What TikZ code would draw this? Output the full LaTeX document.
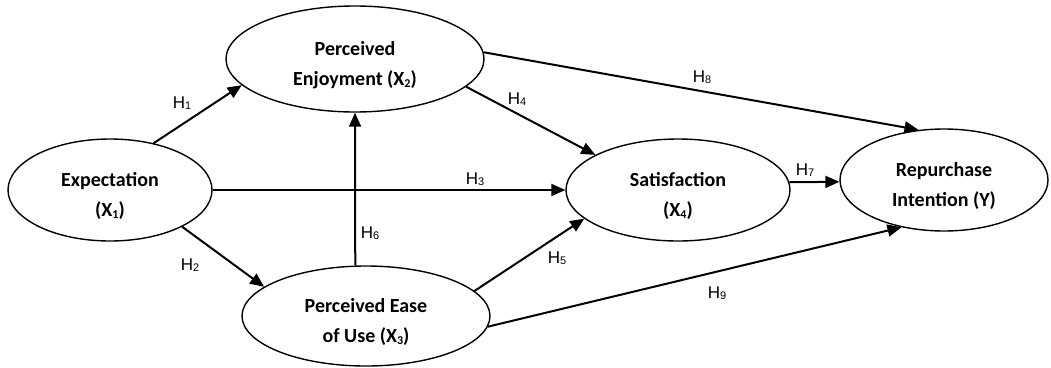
\documentclass[tikz,border=0pt]{standalone}
\usepackage{fontspec}
\setmainfont{Carlito}
\newfontfamily\hypfont{Liberation Sans}
\usetikzlibrary{arrows.meta,shapes.geometric}
\definecolor{inkblack}{RGB}{0,0,0}
\newcommand{\xsub}[1]{\raisebox{-2pt}{\fontsize{12}{12}\selectfont #1}}
\newcommand{\hsub}[1]{\raisebox{-1.5pt}{\fontsize{11}{11}\selectfont #1}}

\begin{document}
\begin{tikzpicture}[x=1pt,y=-1pt,
    construct/.style={draw=inkblack,line width=1.4pt,ellipse,inner sep=0pt,align=center,
      text height=59pt,text depth=7pt,font=\bfseries\fontsize{20}{30}\selectfont},
    hyp/.style={draw=inkblack,line width=2pt,-{Triangle[length=14pt,width=12pt]}},
    hlab/.style={font=\hypfont\fontsize{17}{17}\selectfont,inner sep=0pt}]
  \useasboundingbox (0,0) rectangle (1051,367);
  % constructs
  \node[construct,minimum width=204pt,minimum height=102pt] (exp) at (110,190) {Expectation\\(X\xsub{1})};
  \node[construct,minimum width=258pt,minimum height=106pt] (pe) at (355,59) {Perceived\\Enjoyment (X\xsub{2})};
  \node[construct,minimum width=248pt,minimum height=100pt] (peu) at (366,316) {Perceived Ease\\of Use (X\xsub{3})};
  \node[construct,minimum width=224pt,minimum height=102pt] (sat) at (678,190) {Satisfaction\\(X\xsub{4})};
  \node[construct,minimum width=208pt,minimum height=102pt] (rep) at (944,180) {Repurchase\\Intention (Y)};
  % hypotheses
  \foreach \src/\dst in {exp.47/pe.193, exp.333/peu.164, exp/sat, pe.346/sat.157, peu.13/sat.197,
      peu.102/pe.south, sat.4/rep.181, pe.3/rep.117, peu.355/rep.228}
    \draw[hyp] (\src) -- (\dst);
  \foreach \k/\px/\py in {1/182/103, 2/190/265, 3/475/179, 4/517/99, 5/557/258,
      6/370/233, 7/805/170, 8/702/77, 9/717/293}
    \node[hlab] (h\k) at (\px,\py) {H\hsub{\k}};
\end{tikzpicture}
\end{document}
